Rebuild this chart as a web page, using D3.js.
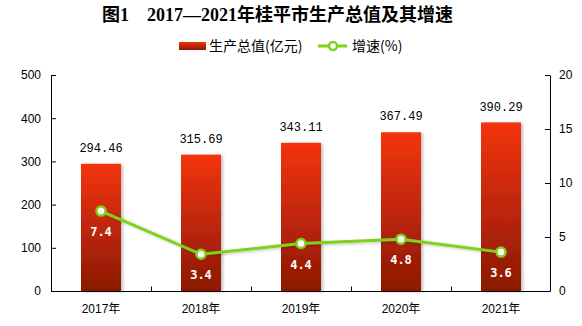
<!DOCTYPE html>
<html><head><meta charset="utf-8">
<script src="https://cdn.jsdelivr.net/npm/d3@7"></script>
<style>body{margin:0;background:#fff}svg{display:block}</style>
</head><body>
<svg id="c" width="582" height="326"></svg>
<script>
const years = ["2017年","2018年","2019年","2020年","2021年"];
const gdp = [294.46, 315.69, 343.11, 367.49, 390.29];
const growth = [7.4, 3.4, 4.4, 4.8, 3.6];
const leftTicks = [0,100,200,300,400,500];
const rightTicks = [0,5,10,15,20];
const titleLabel = "图1";
const titleText = "2017—2021年桂平市生产总值及其增速";
const legendBar = "生产总值(亿元)";
const legendLine = "增速(%)";

const svg = d3.select("#c");
const numFont = "'Liberation Sans','Noto Sans CJK SC',sans-serif";
const cjk = "'Noto Sans CJK SC',sans-serif";

const defs = svg.append("defs");
const grad = defs.append("linearGradient").attr("id","bg").attr("x1",0).attr("y1",0).attr("x2",0).attr("y2",1);
grad.append("stop").attr("offset","0%").attr("stop-color","#f3340c");
grad.append("stop").attr("offset","100%").attr("stop-color","#8b1905");
const sh = defs.append("filter").attr("id","sh").attr("x","-20%").attr("y","-20%").attr("width","140%").attr("height","140%");
sh.append("feDropShadow").attr("dx",2).attr("dy",1).attr("stdDeviation",1.5).attr("flood-color","#000").attr("flood-opacity",0.25);

const x = d3.scaleBand().domain(years).range([51,551]).paddingInner(0.6).paddingOuter(0.3);
const y = d3.scaleLinear().domain([0,500]).range([291,75]);
const y2 = d3.scaleLinear().domain([0,20]).range([291,75]);

// bars
svg.append("g").selectAll("rect").data(gdp).join("rect")
  .attr("x",(d,i)=>x(years[i])).attr("width",x.bandwidth())
  .attr("y",d=>y(d)).attr("height",d=>y(0)-y(d))
  .attr("fill","url(#bg)").attr("filter","url(#sh)");

// bar labels
svg.append("g").selectAll("text").data(gdp).join("text")
  .attr("x",(d,i)=>x(years[i])+x.bandwidth()/2).attr("y",d=>y(d)-16)
  .attr("dy","0.35em").attr("text-anchor","middle")
  .attr("font-family","'Liberation Mono',monospace").attr("font-size",12).attr("fill","#000")
  .text(d=>d.toFixed(2));

// axes
const la = svg.append("g").attr("transform","translate(51,0)")
  .call(d3.axisLeft(y).tickValues(leftTicks).tickSize(-5).tickPadding(10).tickSizeOuter(0));
const ra = svg.append("g").attr("transform","translate(550,0)")
  .call(d3.axisRight(y2).tickValues(rightTicks).tickSize(-5).tickPadding(9).tickSizeOuter(0));
const xa = svg.append("g").attr("transform","translate(0,291)")
  .call(d3.axisBottom(x).tickSize(0).tickPadding(13).tickSizeOuter(0));
[la,ra,xa].forEach(g=>{
  g.selectAll("path,line").attr("stroke","#000").attr("stroke-width",1);
  g.selectAll("text").attr("font-family",numFont).attr("font-size",12).attr("fill","#000");
});
xa.select("path.domain").attr("d","M51.5,0.5H550.5");
xa.selectAll(".boundary").data(years.slice(1)).join("line").attr("class","boundary")
  .attr("x1",d=>Math.round(x(d)-x.step()*x.paddingInner()/2)+0.5)
  .attr("x2",d=>Math.round(x(d)-x.step()*x.paddingInner()/2)+0.5)
  .attr("y1",0.5).attr("y2",-4.5).attr("stroke","#000");

// line
const line = d3.line().x((d,i)=>x(years[i])+x.bandwidth()/2).y(d=>y2(d));
svg.append("path").datum(growth).attr("d",line).attr("fill","none")
  .attr("stroke","#7fd11b").attr("stroke-width",3).attr("filter","url(#sh)");
svg.append("g").selectAll("circle").data(growth).join("circle")
  .attr("cx",(d,i)=>x(years[i])+x.bandwidth()/2).attr("cy",d=>y2(d)).attr("r",4.5)
  .attr("fill","#fff").attr("stroke","#7fd11b").attr("stroke-width",2.5);
svg.append("g").selectAll("text").data(growth).join("text")
  .attr("x",(d,i)=>x(years[i])+x.bandwidth()/2).attr("y",d=>y2(d)+21)
  .attr("dy","0.35em").attr("text-anchor","middle")
  .attr("font-family","'DejaVu Sans Mono',monospace").attr("font-weight","bold").attr("font-size",12).attr("fill","#fff")
  .text(d=>d.toFixed(1));

// title
const tt = svg.append("text").attr("y",15).attr("dy","0.35em")
  .attr("font-family","'Liberation Serif','Noto Sans CJK SC',serif").attr("font-weight","bold").attr("font-size",18)
  .attr("fill","#000");
tt.append("tspan").attr("x",102).text(titleLabel);
tt.append("tspan").attr("x",147).text(titleText);

// legend
const lg = svg.append("g");
lg.append("rect").attr("x",179).attr("y",42).attr("width",27).attr("height",8).attr("fill","url(#bg)");
lg.append("text").attr("x",209).attr("y",46).attr("dy","0.35em").attr("font-family",cjk).attr("font-size",14).attr("fill","#000").text(legendBar);
lg.append("line").attr("x1",318).attr("x2",347).attr("y1",46).attr("y2",46).attr("stroke","#7fd11b").attr("stroke-width",3);
lg.append("circle").attr("cx",333).attr("cy",46).attr("r",4).attr("fill","#fff").attr("stroke","#7fd11b").attr("stroke-width",2.5);
lg.append("text").attr("x",352).attr("y",46).attr("dy","0.35em").attr("font-family",cjk).attr("font-size",14).attr("fill","#000").text(legendLine);
</script>
</body></html>
